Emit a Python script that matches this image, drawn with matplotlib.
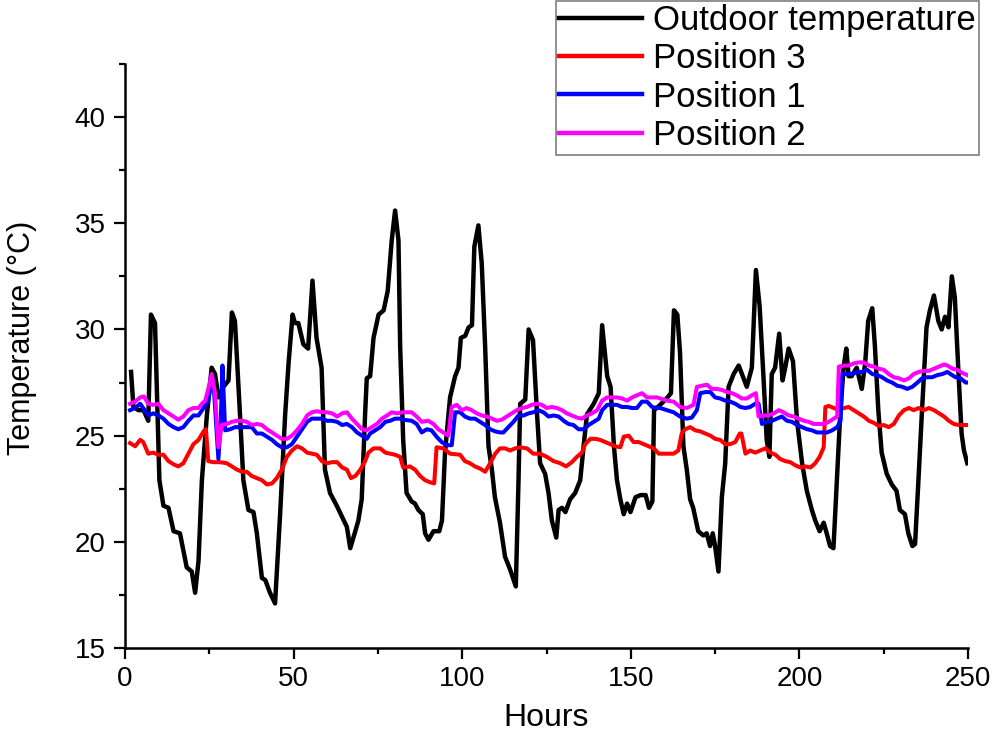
import matplotlib
matplotlib.use("Agg")
import matplotlib.pyplot as plt
from matplotlib.ticker import MultipleLocator

plt.rcParams['font.family'] = ['Liberation Sans', 'DejaVu Sans']

# ---------------- data ----------------
outdoor_hours = [1.8, 2.5, 4.0, 5.5, 6.9, 7.7, 8.9, 10.2, 11.4, 12.9, 14.4, 16.3, 18.3, 19.8, 20.8, 21.8, 22.8, 24.3,
                 25.7, 26.7, 27.7, 29.2, 30.7, 31.7, 32.6, 34.1, 35.1, 36.6, 38.1, 39.1, 40.6, 41.6, 43.0, 44.5, 46.0,
                 47.5, 48.5, 49.7, 50.4, 51.4, 52.9, 54.3, 55.6, 56.8, 58.3, 59.3, 60.8, 62.8, 64.3, 65.8, 66.8, 68.3,
                 69.2, 70.2, 71.2, 71.7, 72.7, 73.7, 75.2, 76.7, 77.9, 79.1, 80.1, 81.1, 81.6, 82.5, 83.5, 85.0, 86.0,
                 87.0, 88.3, 89.0, 90.0, 91.5, 93.2, 94.0, 94.9, 96.4, 97.9, 98.9, 99.6, 100.9, 101.9, 102.9, 103.6,
                 104.8, 105.8, 106.8, 107.8, 108.8, 109.7, 111.2, 112.7, 114.2, 115.9, 116.7, 117.2, 118.7, 119.7,
                 121.0, 122.2, 123.1, 124.6, 125.6, 126.6, 127.9, 128.6, 129.6, 130.6, 132.0, 133.5, 135.0, 136.0,
                 137.0, 139.0, 140.5, 141.5, 143.0, 144.0, 145.0, 145.9, 146.9, 147.9, 148.9, 149.9, 151.4, 152.9,
                 154.4, 155.4, 156.4, 156.9, 158.4, 160.9, 161.9, 162.8, 163.8, 164.6, 165.6, 166.6, 167.6, 168.5,
                 170.0, 171.5, 172.5, 173.5, 174.3, 175.0, 176.0, 177.0, 178.0, 179.0, 180.5, 182.0, 183.2, 184.4,
                 185.9, 187.1, 188.2, 189.4, 190.3, 191.1, 191.8, 192.8, 194.0, 195.0, 195.8, 196.8, 198.1, 199.3,
                 200.8, 202.2, 203.7, 204.7, 206.0, 207.2, 208.1, 209.1, 210.1, 211.1, 212.1, 213.1, 213.9, 214.6,
                 215.5, 217.0, 218.5, 219.5, 220.4, 221.6, 222.4, 223.4, 224.4, 225.9, 227.4, 228.8, 229.8, 231.3,
                 232.3, 233.5, 234.3, 235.3, 236.3, 237.7, 238.7, 239.9, 241.2, 242.2, 243.2, 244.2, 245.2, 246.1,
                 247.1, 248.1, 248.8, 249.8]
outdoor_temp = [28.0, 26.35, 26.2, 26.2, 25.7, 30.7, 30.3, 22.9, 21.7, 21.6, 20.5, 20.4, 18.8, 18.6, 17.6, 19.1, 22.9, 26.0,
                28.2, 27.9, 26.8, 27.3, 27.6, 30.8, 30.4, 26.0, 22.9, 21.5, 21.4, 20.4, 18.3, 18.2, 17.6, 17.1, 21.3,
                26.0, 28.4, 30.7, 30.3, 30.3, 29.3, 29.1, 32.3, 29.6, 28.2, 23.4, 22.3, 21.7, 21.2, 20.7, 19.7, 20.5,
                21.0, 22.0, 26.0, 27.7, 27.8, 29.6, 30.7, 30.9, 31.8, 34.2, 35.6, 34.2, 29.2, 24.8, 22.3, 21.9, 21.8,
                21.5, 21.3, 20.4, 20.1, 20.5, 20.5, 21.0, 24.2, 26.8, 27.8, 28.2, 29.6, 29.7, 30.1, 30.2, 33.9,
                34.9, 33.1, 29.2, 24.5, 23.4, 22.1, 20.9, 19.3, 18.7, 17.9, 22.9, 26.5, 26.7, 30.0,
                29.5, 26.0, 23.7, 23.2, 22.3, 21.0, 20.2, 21.5, 21.6, 21.4, 22.0, 22.3, 22.9, 24.5,
                26.0, 26.5, 27.0, 30.2, 27.8, 27.3, 24.5, 22.9, 22.0, 21.3, 21.8, 21.4, 22.1, 22.2,
                22.2, 21.6, 21.9, 26.2, 26.4, 26.8, 27.0, 30.9, 30.7, 28.9, 24.5, 23.4, 22.0, 21.6,
                20.5, 20.3, 20.4, 19.8, 20.4, 19.8, 18.6, 22.1, 23.7, 27.3, 27.9, 28.3, 27.8, 27.3,
                28.2, 32.8, 31.1, 27.6, 24.8, 24.0, 27.9, 28.2, 29.8, 27.6, 28.2, 29.1, 28.5, 25.7,
                23.7, 22.4, 21.5, 21.0, 20.5, 20.9, 20.4, 19.8, 19.7, 22.9, 26.0, 28.2, 29.1, 27.8,
                27.8, 28.2, 27.2, 28.4, 30.4, 31.0, 29.2, 26.2, 24.2, 23.2, 22.7, 22.4, 21.5, 21.3,
                20.4, 19.8, 19.9, 22.9, 26.0, 30.1, 30.9, 31.6, 30.4, 30.0, 30.6, 30.1, 32.5, 31.5,
                28.2, 25.1, 24.3, 23.7]

pos3_hours = [1.5, 3.0, 4.5, 5.4, 6.9, 8.4, 9.9, 11.4, 12.9, 14.4, 15.8, 17.3, 18.8, 20.3, 21.8, 23.3, 24.0, 24.7, 26.2,
              28.2, 30.2, 31.7, 33.2, 34.7, 36.1, 37.6, 39.1, 40.6, 42.1, 43.6, 45.0, 46.5, 48.0, 49.5, 51.0, 52.5,
              54.0, 55.4, 56.9, 58.4, 59.9, 61.4, 62.9, 64.4, 65.8, 67.0, 68.3, 69.8, 71.2, 72.2, 73.7, 75.7, 77.2,
              78.6, 80.1, 81.6, 82.5, 84.5, 86.0, 87.5, 89.0, 90.5, 91.7, 92.4, 94.4, 96.4, 99.4, 100.8, 102.3,
              103.8, 105.3, 106.8, 108.3, 109.8, 111.2, 112.7, 114.2, 115.7, 117.2, 119.2, 121.1, 123.1, 125.1,
              127.1, 129.1, 130.8, 132.5, 134.0, 135.5, 136.5, 138.0, 139.5, 140.9, 142.4, 143.9, 145.4, 146.9,
              147.9, 149.4, 150.8, 152.3, 153.8, 155.3, 156.8, 158.3, 160.7, 162.7, 164.1, 165.1, 166.1, 167.6,
              169.1, 170.6, 172.1, 173.6, 175.0, 176.5, 178.0, 179.5, 181.0, 182.3, 182.8, 184.0, 185.4, 186.9,
              188.4, 189.9, 191.4, 192.9, 194.3, 195.8, 197.3, 198.8, 200.3, 201.8, 203.3, 204.7, 206.0, 207.2,
              207.7, 208.7, 210.2, 211.7, 213.2, 214.6, 216.1, 217.6, 219.1, 220.6, 222.1, 223.6, 225.0, 226.5,
              228.0, 229.5, 231.0, 232.5, 233.9, 235.4, 236.9, 238.4, 239.9, 241.4, 242.9, 244.3, 245.8, 247.3,
              248.8, 249.9]
pos3_temp = [24.65, 24.5, 24.8, 24.7, 24.15, 24.2, 24.1, 24.1, 23.8, 23.65, 23.55, 23.7, 24.15, 24.6, 24.8, 25.2, 25.3, 23.8,
             23.75, 23.75, 23.7, 23.55, 23.4, 23.3, 23.3, 23.1, 23.0, 22.9, 22.7, 22.75, 23.0, 23.4, 24.0, 24.3, 24.5,
             24.4, 24.2, 24.15, 24.1, 23.8, 23.7, 23.75, 23.75, 23.5, 23.4, 23.0, 23.1, 23.4, 23.8, 24.2, 24.4, 24.4,
             24.2, 24.15, 24.1, 24.0, 23.5, 23.55, 23.4, 23.1, 22.9, 22.8, 22.75, 24.45, 24.4, 24.15, 24.1, 23.8,
             23.7, 23.55, 23.45, 23.3, 23.7, 24.15, 24.4, 24.4, 24.3, 24.4, 24.45, 24.4, 24.15, 24.15, 24.0,
             23.8, 23.7, 23.55, 23.75, 24.0, 24.2, 24.6, 24.85, 24.85, 24.8, 24.7, 24.6, 24.5, 24.45,
             24.95, 25.0, 24.7, 24.7, 24.6, 24.5, 24.4, 24.15, 24.15, 24.15, 24.3, 25.1, 25.3, 25.4,
             25.25, 25.2, 25.1, 25.0, 24.85, 24.8, 24.6, 24.6, 24.7, 25.1, 25.1, 24.15, 24.3, 24.2,
             24.3, 24.4, 24.2, 24.1, 23.9, 23.8, 23.75, 23.6, 23.5, 23.55, 23.5, 23.7, 24.0, 24.45,
             26.35, 26.4, 26.3, 26.2, 26.3, 26.35, 26.2, 26.05, 25.9, 25.7, 25.6, 25.45, 25.5, 25.4,
             25.55, 25.95, 26.2, 26.3, 26.2, 26.3, 26.2, 26.3, 26.2, 26.05, 25.9, 25.7, 25.55, 25.5,
             25.5, 25.5]

pos1_hours = [1.5, 3.0, 4.5, 5.4, 6.9, 8.4, 9.9, 11.4, 12.9, 14.4, 15.8, 17.3, 18.8, 20.3, 21.8, 23.3, 24.7, 25.7, 26.2,
              27.7, 28.4, 28.9, 29.7, 31.2, 32.6, 34.1, 36.1, 37.6, 39.1, 40.6, 42.1, 43.6, 45.0, 46.5, 48.0, 49.5,
              51.0, 52.5, 54.0, 55.4, 56.9, 58.4, 59.9, 61.4, 62.9, 64.4, 65.8, 67.3, 68.8, 70.3, 71.7, 72.7, 74.2,
              75.7, 77.2, 78.6, 80.1, 81.6, 82.5, 85.0, 86.5, 88.0, 89.5, 90.9, 92.4, 93.9, 95.4, 96.9, 97.9, 99.4,
              100.8, 102.3, 103.8, 105.3, 106.8, 108.3, 109.8, 111.2, 112.2, 113.7, 115.2, 116.7, 118.2, 119.7,
              121.1, 122.6, 124.1, 125.6, 127.1, 128.6, 130.1, 131.5, 133.0, 134.5, 136.0, 137.5, 139.0, 140.5,
              141.5, 143.0, 144.4, 145.9, 147.4, 148.9, 150.4, 151.8, 153.3, 154.8, 156.3, 157.8, 158.7, 160.7,
              162.7, 164.6, 166.6, 168.1, 169.6, 170.6, 172.1, 173.6, 175.0, 176.5, 178.0, 179.5, 181.0, 182.5,
              184.0, 185.4, 186.9, 187.9, 188.9, 190.4, 191.9, 193.3, 194.8, 196.3, 197.8, 199.3, 200.8, 202.3,
              203.7, 205.2, 206.7, 208.2, 209.7, 211.2, 212.2, 212.7, 214.2, 215.6, 217.1, 218.6, 220.1, 221.6,
              223.1, 224.5, 226.0, 227.5, 229.0, 230.5, 232.0, 233.5, 235.0, 236.4, 237.9, 239.4, 240.9, 242.4,
              243.9, 244.8, 246.3, 247.8, 249.3, 249.9]
pos1_temp = [26.2, 26.3, 26.5, 26.3, 25.95, 26.05, 25.95, 25.8, 25.55, 25.4, 25.3, 25.4, 25.7, 25.95, 25.95, 26.3, 26.65, 27.75, 27.6,
             23.9, 25.7, 28.3, 25.25, 25.3, 25.4, 25.4, 25.4, 25.4, 25.1, 25.1, 24.95, 24.8, 24.6, 24.45, 24.45, 24.6,
             24.95, 25.3, 25.65, 25.8, 25.8, 25.8, 25.7, 25.7, 25.65, 25.5, 25.55, 25.4, 25.15, 25.0, 24.85, 25.1, 25.25,
             25.4, 25.65, 25.7, 25.8, 25.8, 25.75, 25.7, 25.55, 25.15, 25.3, 25.25, 24.95, 24.7, 24.55, 24.55, 26.1, 26.1,
             25.9, 25.8, 25.8, 25.65, 25.5, 25.3, 25.2, 25.15, 25.15, 25.4, 25.65, 25.95, 25.95, 26.05,
             26.1, 26.2, 26.1, 25.9, 25.95, 25.9, 25.7, 25.55, 25.5, 25.3, 25.3, 25.5, 25.65, 25.8,
             26.2, 26.45, 26.45, 26.45, 26.35, 26.35, 26.3, 26.3, 26.6, 26.6, 26.35, 26.3, 26.3, 26.2,
             26.1, 25.9, 25.8, 25.85, 26.2, 27.0, 27.05, 27.05, 26.8, 26.75, 26.65, 26.6, 26.5, 26.35,
             26.3, 26.35, 26.5, 26.5, 25.55, 25.65, 25.7, 25.8, 25.9, 25.7, 25.65, 25.5, 25.4, 25.3,
             25.25, 25.15, 25.15, 25.15, 25.25, 25.4, 25.7, 27.9, 27.9, 27.9, 28.0, 28.0, 28.1, 27.9,
             27.85, 27.75, 27.6, 27.5, 27.35, 27.3, 27.2, 27.3, 27.5, 27.7, 27.75, 27.75, 27.85, 27.9,
             28.0, 27.9, 27.75, 27.7, 27.5, 27.5]

pos2_hours = [1.5, 3.0, 4.5, 5.6, 6.9, 8.4, 9.9, 11.4, 12.9, 14.4, 15.8, 17.3, 18.8, 20.3, 21.8, 22.8, 23.8, 24.7, 25.7,
              26.7, 27.7, 28.7, 30.2, 31.7, 33.2, 34.7, 36.1, 37.6, 39.1, 40.6, 42.1, 43.6, 45.0, 46.5, 48.0, 49.5,
              51.0, 52.5, 54.0, 55.4, 56.9, 58.4, 59.9, 61.4, 62.9, 64.4, 65.8, 67.3, 68.8, 70.3, 71.7, 73.2, 74.7,
              76.2, 77.7, 79.1, 80.6, 82.5, 85.0, 86.5, 88.0, 89.9, 91.5, 92.9, 94.4, 95.9, 96.9, 98.4, 99.9, 101.3,
              102.8, 104.3, 105.8, 107.3, 108.8, 110.3, 111.7, 113.2, 114.7, 116.2, 117.7, 119.2, 120.6, 122.1,
              123.6, 125.1, 126.6, 128.1, 129.6, 131.0, 132.5, 134.0, 135.5, 137.0, 138.5, 140.0, 141.5, 143.0,
              144.4, 145.9, 147.4, 148.9, 150.4, 151.8, 153.3, 154.8, 156.3, 157.8, 158.7, 160.7, 162.7, 164.6,
              166.6, 168.6, 169.6, 171.1, 172.6, 174.0, 175.5, 177.0, 178.5, 180.0, 181.4, 182.9, 184.4, 185.9,
              187.1, 187.9, 189.4, 190.9, 192.4, 193.9, 195.3, 196.8, 198.3, 199.8, 201.3, 202.8, 204.2, 205.7,
              207.2, 208.7, 210.2, 211.2, 211.7, 213.2, 214.6, 216.1, 217.6, 219.1, 220.6, 222.1, 223.6, 225.0,
              226.5, 228.0, 229.5, 231.0, 232.5, 233.9, 235.4, 236.9, 238.4, 239.9, 241.4, 242.9, 243.9, 245.4,
              246.8, 248.3, 249.8]
pos2_temp = [26.5, 26.6, 26.8, 26.85, 26.5, 26.45, 26.5, 26.2, 26.05, 25.9, 25.75, 25.9, 26.2, 26.3, 26.3, 26.5, 26.65, 27.2, 27.9,
             27.0, 24.45, 25.5, 25.55, 25.65, 25.7, 25.7, 25.65, 25.5, 25.55, 25.5, 25.3, 25.15, 25.0, 24.85, 24.85, 25.0,
             25.25, 25.55, 25.95, 26.1, 26.15, 26.1, 26.1, 26.05, 25.9, 26.05, 26.1, 25.8, 25.55, 25.3, 25.25, 25.4, 25.55,
             25.8, 25.95, 26.1, 26.05, 26.1, 26.1, 25.9, 25.65, 25.7, 25.55, 25.3, 25.15, 25.0, 26.35, 26.45, 26.2, 26.3,
             26.2, 26.05, 25.95, 25.9, 25.8, 25.7, 25.75, 25.9, 26.05, 26.2, 26.3, 26.35, 26.45, 26.5,
             26.45, 26.3, 26.35, 26.3, 26.2, 26.05, 25.95, 25.85, 25.8, 25.95, 26.05, 26.2, 26.65, 26.8,
             26.8, 26.8, 26.75, 26.65, 26.8, 26.9, 27.0, 26.8, 26.8, 26.8, 26.75, 26.65, 26.6, 26.35,
             26.3, 26.45, 27.3, 27.35, 27.4, 27.2, 27.2, 27.15, 27.05, 27.0, 26.9, 26.75, 26.75, 26.9,
             27.0, 25.9, 25.95, 25.95, 26.05, 26.2, 26.1, 25.95, 25.9, 25.8, 25.7, 25.65, 25.55, 25.55,
             25.55, 25.65, 25.8, 25.9, 28.25, 28.3, 28.3, 28.4, 28.45, 28.45, 28.3, 28.25, 28.15, 28.1,
             27.9, 27.75, 27.7, 27.6, 27.7, 27.9, 28.0, 28.05, 28.05, 28.15, 28.25, 28.35, 28.3, 28.15,
             28.1, 27.95, 27.85]

series_labels = ["Outdoor temperature", "Position 3", "Position 1", "Position 2"]
x_ticks = [0, 50, 100, 150, 200, 250]
y_ticks = [15, 20, 25, 30, 35, 40]

# ---------------- figure ----------------
fig = plt.figure(figsize=(9.92, 7.37), dpi=100)
ax = fig.add_axes([125 / 992, 1 - 648 / 737, 843 / 992, (648 - 64) / 737])

ax.plot(outdoor_hours, outdoor_temp, color="#000000", lw=3.2, label=series_labels[0])
ax.plot(pos3_hours, pos3_temp, color="#ff0000", lw=2.9, label=series_labels[1])
ax.plot(pos1_hours, pos1_temp, color="#0000ff", lw=2.9, label=series_labels[2])
ax.plot(pos2_hours, pos2_temp, color="#ff00ff", lw=2.9, label=series_labels[3])

ax.set_xlim(0, 250)
ax.set_ylim(15, 42.5)
ax.set_xticks(x_ticks)
ax.set_yticks(y_ticks)
ax.xaxis.set_minor_locator(MultipleLocator(25))
ax.yaxis.set_minor_locator(MultipleLocator(2.5))

for side in ("top", "right"):
    ax.spines[side].set_visible(False)
for side in ("left", "bottom"):
    ax.spines[side].set_linewidth(1.8)

ax.tick_params(which="major", direction="out", length=8, width=1.6, labelsize=20, pad=6)
ax.tick_params(which="minor", direction="out", length=4.5, width=1.6)
ax.tick_params(axis="x", which="major", pad=5)

ax.set_xlabel("Hours", fontsize=23, labelpad=8)
ax.set_ylabel("Temperature (°C)", fontsize=22)
ax.yaxis.set_label_coords(-0.104, 0.531)

leg = fig.legend(loc="upper right", bbox_to_anchor=(979 / 992, 0.999), fontsize=25,
                 frameon=True, fancybox=False, framealpha=1, edgecolor="#7f7f7f",
                 handlelength=2.4, handletextpad=0.3, borderpad=0.1, labelspacing=0.15,
                 borderaxespad=0)
leg.get_frame().set_linewidth(1.2)
for line in leg.get_lines():
    line.set_linewidth(3.2)

fig.savefig("out.png", dpi=100)
